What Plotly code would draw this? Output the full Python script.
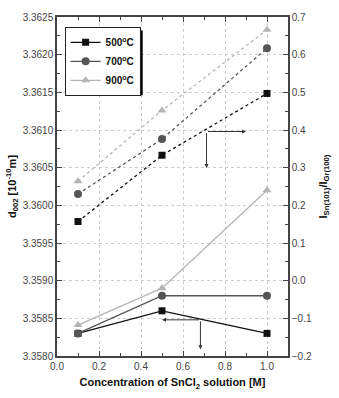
import plotly.graph_objects as go

conc = [0.1, 0.5, 1.0]
series = ["500<sup>o</sup>C", "700<sup>o</sup>C", "900<sup>o</sup>C"]
d002 = {
    "500": [3.3583, 3.3586, 3.3583],
    "700": [3.3583, 3.3588, 3.3588],
    "900": [3.35841, 3.3589, 3.3602],
}
ratio = {
    "500": [0.157, 0.333, 0.497],
    "700": [0.23, 0.376, 0.617],
    "900": [0.264, 0.452, 0.666],
}
keys = ["500", "700", "900"]
colors = ["#111111", "#555555", "#b4b4b4"]
symbols = ["square", "circle", "triangle-up"]
msizes = [7, 8, 8]

fig = go.Figure()
for k, name, c, s, ms in zip(keys, series, colors, symbols, msizes):
    fig.add_trace(go.Scatter(x=conc, y=d002[k], mode="lines+markers", name="<b>" + name + "</b>",
                             line=dict(color=c, width=1.3), marker=dict(symbol=s, size=ms, color=c),
                             yaxis="y"))
for k, c, s, ms in zip(keys, colors, symbols, msizes):
    fig.add_trace(go.Scatter(x=conc, y=ratio[k], mode="lines+markers", showlegend=False,
                             line=dict(color=c, width=1.3, dash="dot"), marker=dict(symbol=s, size=ms, color=c),
                             yaxis="y2"))

arrow = dict(showarrow=True, arrowhead=2, arrowsize=0.8, arrowwidth=1, arrowcolor="#333333", text="")
# right-pointing arrow (to right axis)
fig.add_annotation(x=0.90, y=0.396, ax=0.712, ay=0.396, xref="x", yref="y2", axref="x", ayref="y2", **arrow)
fig.add_annotation(x=0.712, y=0.299, ax=0.712, ay=0.396, xref="x", yref="y2", axref="x", ayref="y2", **arrow)
# left-pointing arrow (to left axis)
fig.add_annotation(x=0.50, y=3.35848, ax=0.683, ay=3.35848, xref="x", yref="y", axref="x", ayref="y", **arrow)
fig.add_annotation(x=0.683, y=3.35809, ax=0.683, ay=3.35848, xref="x", yref="y", axref="x", ayref="y", **arrow)

# legend shadow
fig.add_shape(type="rect", xref="paper", yref="paper", x0=0.045, x1=0.371, y0=0.769, y1=0.960,
              fillcolor="black", line=dict(width=0), layer="above")

axfont = dict(family="Liberation Sans, Arial", size=10, color="#444444")
tfont = dict(family="Liberation Sans, Arial", size=11, color="#111111")
fig.update_layout(
    width=339, height=398,
    margin=dict(l=57, r=37, t=11, b=36),
    paper_bgcolor="white", plot_bgcolor="white",
    font=axfont,
    legend=dict(x=0.033, y=0.971, xanchor="left", yanchor="top", bgcolor="white",
                bordercolor="#222222", borderwidth=1, font=dict(family="Liberation Sans, Arial", size=10, color="#111111"),
                itemwidth=30, tracegroupgap=0),
    xaxis=dict(range=[0, 1.1], tick0=0, dtick=0.2, tickformat=".1f", ticks="inside", ticklen=5,
               showline=True, linecolor="#444444", linewidth=1.5, mirror="ticks",
               showgrid=True, gridcolor="#cccccc", griddash="dot", gridwidth=1, zeroline=False,
               minor=dict(ticks="inside", ticklen=3, dtick=0.1, showgrid=False),
               title=dict(text="<b>Concentration of SnCl<sub>2</sub> solution [M]</b>", font=tfont, standoff=8)),
    yaxis=dict(range=[3.3580, 3.3625], dtick=0.0005, tickformat=".4f", ticks="inside", ticklen=5,
               showline=True, linecolor="#444444", linewidth=1.5,
               showgrid=True, gridcolor="#cccccc", griddash="dot", gridwidth=1, zeroline=False,
               minor=dict(ticks="inside", ticklen=3, dtick=0.00025, showgrid=False),
               title=dict(text="<b>d<sub>002</sub> [10<sup>-10</sup>m]</b>", font=tfont, standoff=4)),
    yaxis2=dict(range=[-0.2, 0.7], dtick=0.1, tickformat=".1f", ticks="inside", ticklen=5, overlaying="y", side="right",
                showline=True, linecolor="#444444", linewidth=1.5, showgrid=False, zeroline=False,
                minor=dict(ticks="inside", ticklen=3, dtick=0.05),
                title=dict(text="<b>I<sub>Sn(101)</sub>/I<sub>Gr(100)</sub></b>", font=tfont, standoff=8)),
)
fig.write_html("out.html")
